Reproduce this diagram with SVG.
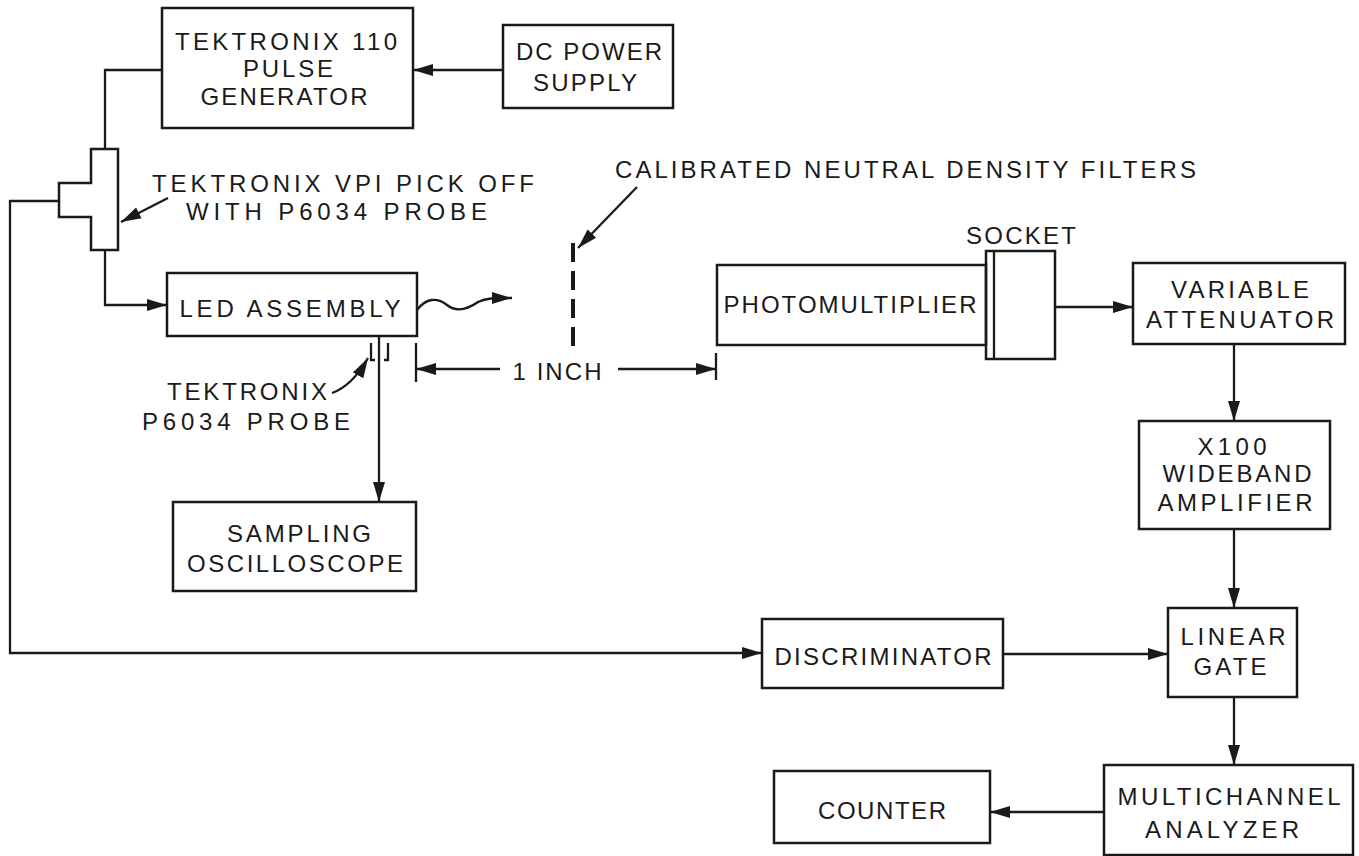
<svg xmlns="http://www.w3.org/2000/svg" width="1359" height="856" viewBox="0 0 1359 856">
<style>
.box{fill:none;stroke:#1a1a1a;stroke-width:2.5}
.ln{fill:none;stroke:#1a1a1a;stroke-width:2.3}
text{font-family:"Liberation Sans",Arial,sans-serif;font-size:24px;fill:#1a1a1a;text-anchor:middle}
.st{text-anchor:start}
</style>
<defs>
<marker id="ah" markerUnits="userSpaceOnUse" markerWidth="21" markerHeight="14" refX="20" refY="7" orient="auto">
<path d="M0,1 L20,7 L0,13 z" fill="#1a1a1a"/>
</marker>
</defs>
<rect width="1359" height="856" fill="#ffffff"/>

<g id="connectors">
<path class="ln" d="M503,70 H413" marker-end="url(#ah)"/>
<path class="ln" d="M162,70 H105 V149"/>
<path class="ln" d="M105,250 V305 H167" marker-end="url(#ah)"/>
<path class="ln" d="M59,201 H10 V653 H762" marker-end="url(#ah)"/>
<path class="ln" d="M379,336 V502" marker-end="url(#ah)"/>
<path class="ln" d="M417,310 C426,298 437,297 447,305 C457,313 468,309 478,302 C486,298 494,298 512,298" marker-end="url(#ah)"/>
<path class="ln" d="M1055,307 H1133" marker-end="url(#ah)"/>
<path class="ln" d="M1234,344 V421" marker-end="url(#ah)"/>
<path class="ln" d="M1234,529 V608" marker-end="url(#ah)"/>
<path class="ln" d="M1003,654 H1168" marker-end="url(#ah)"/>
<path class="ln" d="M1234,697 V765" marker-end="url(#ah)"/>
<path class="ln" d="M1104,812 H990" marker-end="url(#ah)"/>
</g>

<g id="pulse-generator">
<rect class="box" x="162" y="8" width="251" height="120"/>
<text x="286" y="50" textLength="222" lengthAdjust="spacing">TEKTRONIX 110</text>
<text x="288" y="77" textLength="90" lengthAdjust="spacing">PULSE</text>
<text x="284" y="105" textLength="167" lengthAdjust="spacing">GENERATOR</text>
</g>

<g id="dc-power-supply">
<rect class="box" x="503" y="25" width="170" height="83"/>
<text x="589" y="60" textLength="146" lengthAdjust="spacing">DC POWER</text>
<text x="585" y="91" textLength="104" lengthAdjust="spacing">SUPPLY</text>
</g>

<g id="pick-off">
<path class="box" d="M91,149 H118 V250 H91 V217 H59 V183 H91 Z"/>
<text class="st" x="152" y="192" textLength="382" lengthAdjust="spacing">TEKTRONIX VPI PICK OFF</text>
<text class="st" x="186" y="220" textLength="301" lengthAdjust="spacing">WITH P6034 PROBE</text>
<path class="ln" d="M168,198 L121,222" marker-end="url(#ah)"/>
</g>

<g id="led-assembly">
<rect class="box" x="167" y="273" width="250" height="63"/>
<text x="290" y="317" textLength="221" lengthAdjust="spacing">LED ASSEMBLY</text>
</g>

<g id="probe">
<path class="ln" d="M371,343 V360 H375 M388,343 V360 H384"/>
<text x="247" y="400" textLength="160" lengthAdjust="spacing">TEKTRONIX</text>
<text x="246" y="430" textLength="208" lengthAdjust="spacing">P6034 PROBE</text>
<path class="ln" d="M332,393 Q352,386 368,358" marker-end="url(#ah)"/>
</g>

<g id="sampling-oscilloscope">
<rect class="box" x="173" y="502" width="243" height="89"/>
<text x="299" y="542" textLength="144" lengthAdjust="spacing">SAMPLING</text>
<text x="295" y="572" textLength="216" lengthAdjust="spacing">OSCILLOSCOPE</text>
</g>

<g id="filters">
<line x1="573" y1="243" x2="573" y2="353" stroke="#1a1a1a" stroke-width="4" stroke-dasharray="19 9"/>
<text class="st" x="615" y="178" textLength="581" lengthAdjust="spacing">CALIBRATED NEUTRAL DENSITY FILTERS</text>
<path class="ln" d="M637,187 L578,248" marker-end="url(#ah)"/>
</g>

<g id="dimension">
<path class="ln" d="M416,343 V382 M716,353 V380"/>
<path class="ln" d="M500,369 H416" marker-end="url(#ah)"/>
<path class="ln" d="M618,369 H716" marker-end="url(#ah)"/>
<text x="557" y="380" textLength="89" lengthAdjust="spacing">1 INCH</text>
</g>

<g id="photomultiplier">
<rect class="box" x="717" y="265" width="269" height="80"/>
<text x="850" y="313" textLength="253" lengthAdjust="spacing">PHOTOMULTIPLIER</text>
</g>

<g id="socket">
<rect class="box" x="986" y="251" width="69" height="108"/>
<line class="ln" x1="994" y1="251" x2="994" y2="359"/>
<text x="1021" y="244" textLength="110" lengthAdjust="spacing">SOCKET</text>
</g>

<g id="variable-attenuator">
<rect class="box" x="1133" y="263" width="212" height="81"/>
<text x="1240" y="298" textLength="138" lengthAdjust="spacing">VARIABLE</text>
<text x="1240" y="328" textLength="188" lengthAdjust="spacing">ATTENUATOR</text>
</g>

<g id="wideband-amplifier">
<rect class="box" x="1139" y="421" width="191" height="108"/>
<text x="1232" y="455" textLength="69" lengthAdjust="spacing">X100</text>
<text x="1237" y="482" textLength="149" lengthAdjust="spacing">WIDEBAND</text>
<text x="1235" y="511" textLength="155" lengthAdjust="spacing">AMPLIFIER</text>
</g>

<g id="linear-gate">
<rect class="box" x="1168" y="608" width="129" height="89"/>
<text x="1233" y="645" textLength="105" lengthAdjust="spacing">LINEAR</text>
<text x="1230" y="675" textLength="73" lengthAdjust="spacing">GATE</text>
</g>

<g id="discriminator">
<rect class="box" x="762" y="619" width="241" height="69"/>
<text x="883" y="665" textLength="217" lengthAdjust="spacing">DISCRIMINATOR</text>
</g>

<g id="multichannel-analyzer">
<rect class="box" x="1104" y="765" width="249" height="90"/>
<text x="1229" y="805" textLength="223" lengthAdjust="spacing">MULTICHANNEL</text>
<text x="1222" y="838" textLength="154" lengthAdjust="spacing">ANALYZER</text>
</g>

<g id="counter">
<rect class="box" x="774" y="771" width="216" height="72"/>
<text x="882" y="819" textLength="128" lengthAdjust="spacing">COUNTER</text>
</g>
</svg>
